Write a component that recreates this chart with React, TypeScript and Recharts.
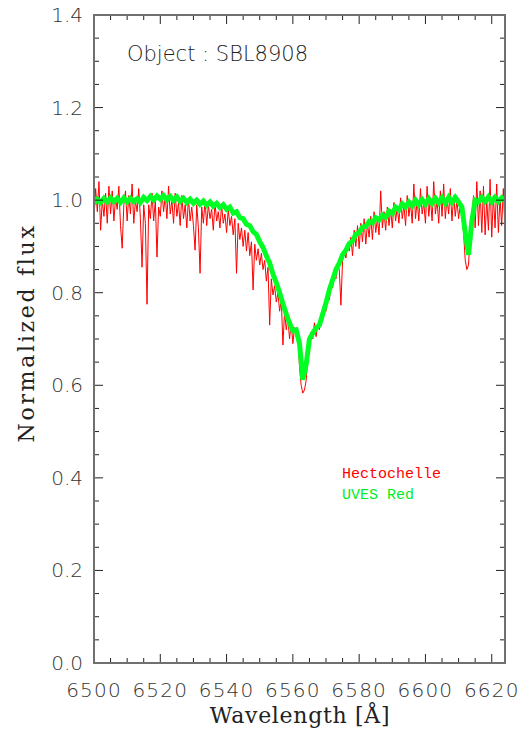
import { LineChart, Line, XAxis, YAxis } from "recharts";

// Hectochelle spectrum (red): normalized flux sampled every 0.5 Å from 6500 Å
const hectoStart = 6500;
const hectoStep = 0.5;
const hectoFlux = [
  0.96, 1.025, 0.975, 1.04, 0.935, 1.0, 0.965, 1.015, 0.95, 1.03,
  0.97, 1.02, 0.955, 1.005, 0.98, 1.03, 0.945, 0.896, 0.99, 1.02,
  0.955, 1.01, 0.97, 1.035, 0.95, 1.0, 0.975, 1.025, 0.96, 0.855,
  0.99, 0.95, 0.775, 0.99, 0.96, 1.015, 0.955, 1.0, 0.877, 0.985,
  0.965, 1.02, 0.975, 1.01, 0.96, 1.03, 0.97, 1.0, 0.95, 1.015,
  0.965, 0.995, 0.945, 1.01, 0.96, 0.99, 0.94, 1.005, 0.955, 0.985,
  0.945, 0.892, 0.99, 0.94, 0.842, 0.985, 0.95, 1.0, 0.945, 0.99,
  0.96, 0.98, 0.935, 0.995, 0.955, 0.975, 0.94, 0.99, 0.95, 0.97,
  0.93, 0.98, 0.945, 0.965, 0.925, 0.96, 0.842, 0.95, 0.915, 0.94,
  0.9, 0.935, 0.89, 0.93, 0.88, 0.91, 0.806, 0.905, 0.87, 0.895,
  0.86, 0.885, 0.85, 0.87, 0.825, 0.855, 0.73, 0.83, 0.795, 0.815,
  0.78, 0.8, 0.76, 0.785, 0.687, 0.76, 0.72, 0.745, 0.7, 0.735,
  0.69, 0.725, 0.705, 0.715, 0.64, 0.6, 0.583, 0.59, 0.61, 0.66,
  0.7, 0.715, 0.7, 0.735, 0.705, 0.73, 0.72, 0.75, 0.74, 0.77,
  0.76, 0.8, 0.785, 0.815, 0.81, 0.84, 0.83, 0.86, 0.85, 0.773,
  0.87, 0.89, 0.875, 0.905, 0.89, 0.92, 0.88, 0.935, 0.9, 0.945,
  0.895, 0.95, 0.91, 0.96, 0.905, 0.95, 0.92, 0.965, 0.915, 0.975,
  0.93, 0.96, 0.925, 1.02, 0.94, 0.975, 0.935, 0.985, 0.945, 0.98,
  0.94, 0.995, 0.955, 0.985, 0.95, 1.005, 0.96, 0.99, 0.945, 1.01,
  0.965, 0.995, 0.95, 1.035, 0.96, 1.0, 0.955, 1.025, 0.97, 0.995,
  0.95, 1.03, 0.965, 1.005, 0.955, 1.04, 0.97, 1.0, 0.95, 1.02,
  0.965, 1.035, 0.96, 1.005, 0.97, 1.025, 0.955, 1.01, 0.965, 1.0,
  0.96, 0.99, 0.97, 0.93, 0.87, 0.85, 0.86, 0.93, 0.96, 1.01,
  0.94, 1.04, 0.945, 1.02, 0.93, 1.03, 0.925, 1.0, 0.935, 1.045,
  0.92, 1.01, 0.94, 1.035, 0.93, 1.005, 0.945, 1.025, 0.935,
];

// UVES Red spectrum (green): normalized flux sampled every 1 Å from 6500 Å
const uvesStart = 6500;
const uvesFlux = [
  0.993, 1.002, 0.995, 1.004, 0.996, 1.005, 0.997, 1.004, 0.995, 1.005,
  0.996, 1.004, 0.997, 1.003, 0.995, 1.006, 0.999, 1.008, 1.0, 1.009,
  1.002, 1.01, 1.001, 1.008, 0.999, 1.007, 0.997, 1.004, 0.995, 1.002,
  0.993, 1.0, 0.991, 0.998, 0.989, 0.996, 0.987, 0.993, 0.984, 0.99,
  0.98, 0.985, 0.972, 0.975, 0.962, 0.96, 0.948, 0.945, 0.932, 0.926,
  0.91, 0.898, 0.88, 0.864, 0.84, 0.822, 0.8, 0.776, 0.754, 0.734,
  0.718, 0.72, 0.69, 0.612, 0.645, 0.7, 0.713, 0.724, 0.73, 0.754,
  0.778, 0.806, 0.828, 0.85, 0.864, 0.882, 0.892, 0.906, 0.912, 0.926,
  0.93, 0.942, 0.943, 0.954, 0.951, 0.962, 0.957, 0.968, 0.963, 0.976,
  0.971, 0.985, 0.979, 0.992, 0.985, 0.996, 0.988, 1.0, 0.99, 1.001,
  0.991, 1.003, 0.993, 1.004, 0.994, 1.005, 0.993, 1.006, 0.995, 1.006,
  0.996, 0.985, 0.93, 0.882, 0.955, 1.0, 0.996, 1.006, 0.997, 1.007,
  0.996, 1.006, 0.997, 1.005, 0.998,
];

const xTicks = [6500, 6520, 6540, 6560, 6580, 6600, 6620];
const yTicks = [0.0, 0.2, 0.4, 0.6, 0.8, 1.0, 1.2, 1.4];

const redData = hectoFlux.map((f, i) => ({ w: hectoStart + i * hectoStep, f }));
const greenData = uvesFlux.map((f, i) => ({ w: uvesStart + i, f }));

// minor ticks every 5 Å and every 0.05 in flux
const xAll: number[] = [];
for (let v = 6500; v <= 6620; v += 5) xAll.push(v);
const yAll: number[] = [];
for (let i = 0; i <= 28; i++) yAll.push(+(i * 0.05).toFixed(2));

const isMajorX = (v: number) => xTicks.includes(v);
const isMajorY = (v: number) => yTicks.some((t) => Math.abs(t - v) < 1e-6);

const plotW = 411;
const plotH = 648;
const tickColor = "#222";
const tickFont = "'DejaVu Sans', sans-serif";
const titleFont = "'DejaVu Serif', serif";

// bottom tick also draws its mirror on the top edge of the box
const BottomTick = (p: any) => {
  const v = p.payload.value;
  const len = isMajorX(v) ? 9 : 5;
  return (
    <g>
      <line x1={p.x} x2={p.x} y1={p.y} y2={p.y - len} stroke={tickColor} />
      <line x1={p.x} x2={p.x} y1={p.y - plotH} y2={p.y - plotH + len} stroke={tickColor} />
      {isMajorX(v) && (
        <text x={p.x} y={p.y + 34} textAnchor="middle" fontFamily={tickFont} fontWeight={200} fontSize={20} letterSpacing={1.2} fill="#333">
          {v}
        </text>
      )}
    </g>
  );
};

// left tick also draws its mirror on the right edge
const LeftTick = (p: any) => {
  const v = p.payload.value;
  const len = isMajorY(v) ? 9 : 5;
  return (
    <g>
      <line x1={p.x} x2={p.x + len} y1={p.y} y2={p.y} stroke={tickColor} />
      <line x1={p.x + plotW} x2={p.x + plotW - len} y1={p.y} y2={p.y} stroke={tickColor} />
      {isMajorY(v) && (
        <text x={p.x - 11} y={p.y + 7} textAnchor="end" fontFamily={tickFont} fontWeight={200} fontSize={20} fill="#333">
          {v.toFixed(1)}
        </text>
      )}
    </g>
  );
};

export default function App() {
  return (
    <div style={{ position: "relative", width: 524, height: 738, background: "#fff" }}>
      <style>{`body{margin:0}`}</style>
      <LineChart width={524} height={738} margin={{ top: 15, right: 19, bottom: 0, left: 0 }}>
        <XAxis
          type="number"
          dataKey="w"
          domain={[6500, 6624]}
          ticks={xAll}
          interval={0}
          allowDataOverflow
          height={75}
          tickSize={0}
          tickMargin={0}
          tickLine={false}
          axisLine={false}
          tick={BottomTick}
        />
        <YAxis
          type="number"
          domain={[0, 1.4]}
          ticks={yAll}
          interval={0}
          allowDataOverflow
          width={94}
          tickSize={0}
          tickMargin={0}
          tickLine={false}
          axisLine={false}
          tick={LeftTick}
        />
        <Line
          data={redData}
          dataKey="f"
          type="linear"
          stroke="#ff0000"
          strokeWidth={1}
          dot={false}
          isAnimationActive={false}
        />
        <Line
          data={greenData}
          dataKey="f"
          type="linear"
          stroke="#00ff22"
          strokeWidth={5}
          dot={false}
          isAnimationActive={false}
        />
      </LineChart>
      <div
        style={{
          position: "absolute",
          left: 93,
          top: 14,
          width: plotW + 2,
          height: plotH + 2,
          boxSizing: "border-box",
          border: "2px solid #707070",
          pointerEvents: "none",
        }}
      />
      <div style={{ position: "absolute", left: 127, top: 42, fontFamily: tickFont, fontWeight: 200, fontSize: 21, color: "#222", whiteSpace: "nowrap" }}>
        Object : SBL8908
      </div>
      <div style={{ position: "absolute", left: 342, top: 464, fontFamily: "'Liberation Mono', monospace", fontSize: 15, color: "#ff0000", lineHeight: "21px", whiteSpace: "nowrap" }}>
        Hectochelle
        <br />
        <span style={{ color: "#00ee22" }}>UVES Red</span>
      </div>
      <div style={{ position: "absolute", left: 0, width: 600, top: 703, textAlign: "center", fontFamily: titleFont, fontSize: 22, letterSpacing: 0.7, color: "#222", whiteSpace: "nowrap" }}>
        Wavelength [Å]
      </div>
      <div
        style={{
          position: "absolute",
          left: 26,
          top: 333,
          transform: "translate(-50%, -50%) rotate(-90deg)",
          fontFamily: titleFont,
          fontSize: 22,
          letterSpacing: 2.7,
          color: "#222",
          whiteSpace: "nowrap",
        }}
      >
        Normalized flux
      </div>
    </div>
  );
}
